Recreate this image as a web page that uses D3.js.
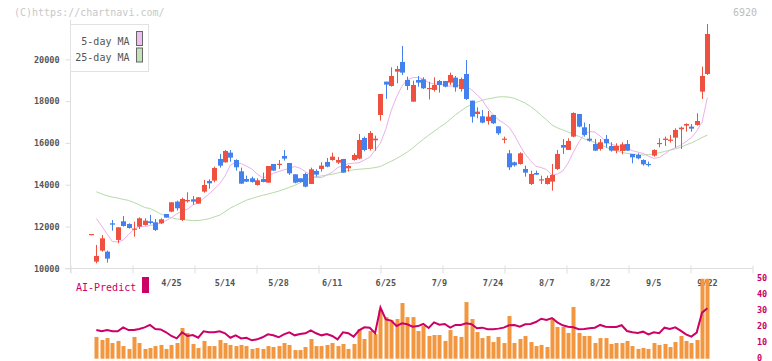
<!DOCTYPE html>
<html><head><meta charset="utf-8">
<script src="https://cdn.jsdelivr.net/npm/d3@7"></script>
<style>body{margin:0;background:#fff}svg{display:block}</style>
</head><body><svg id="c" width="772" height="361"></svg>
<script>
// ---- data ----
const openP  = [11640,10319,10845,10797,12153,11356,12249,12121,11865,11994,12073,12249,12201,12153,12600,12711,13190,12313,13206,13301,13094,13668,14179,14195,15231,15072,15534,15183,14641,14274,14306,13987,14274,14099,14992,14960,15375,15040,14498,14306,14514,14035,14657,14753,15088,15183,15056,15231,14785,15183,15247,16236,15710,16124,17337,18931,18724,19410,19872,19011,17974,19011,19043,18596,18533,18963,18963,18884,19123,18580,19298,18022,17384,17273,17049,17337,16794,16172,15502,15072,14992,14753,14035,14561,14226,14035,14147,14753,15901,15662,16300,17384,16746,16204,15949,15710,16188,15853,15630,15614,15949,15470,15423,15183,14992,15391,15965,16140,16124,16252,16651,16826,16778,16858,18453,19298];
const closeP = [11640,10590,11435,10463,12089,11962,12026,11930,11900,12392,12281,12169,11834,12345,12424,13158,12871,13317,13270,13190,13397,13987,14067,14801,14912,15614,15295,14833,14051,14147,14131,14211,14131,14896,14673,15000,15247,14545,14099,14131,13907,14737,14482,14912,14864,15343,15183,14577,14896,15423,16140,15662,16475,16204,18341,18788,19203,19537,19362,18724,18772,18884,18612,18628,18772,18772,18692,19250,18660,19059,18102,17257,17496,16970,17257,16938,16459,16204,14833,14928,15502,14577,14514,14482,14258,14322,14466,15470,15773,16093,17432,16778,16380,16108,15630,16029,15981,15630,15853,15933,15630,15311,15263,14976,14960,15662,15997,16204,16156,16619,16731,16906,16683,17049,19203,21212];
const highP  = [11640,11116,11595,10845,12313,11962,12504,12153,12233,12440,12392,12552,12360,12392,12600,13158,13238,13381,13636,13461,13397,14226,14258,14864,15470,15662,15662,15215,14817,14434,14386,14306,14577,14896,14992,15183,15662,15040,14498,14306,14577,14817,14737,15072,15279,15534,15327,15231,14944,15502,16427,16300,16571,16348,18341,18931,19617,19681,20638,19171,18979,19203,19139,18931,19139,19011,18963,19362,19203,19123,19968,18022,17703,17576,17528,17337,16794,16300,15662,15104,15550,14912,14673,14673,14434,14434,14992,15662,16188,16220,17464,17384,16970,16906,16188,16188,16380,16029,15981,16029,16140,15470,15502,15215,15104,15694,16220,16300,16380,16699,16779,16938,16906,17416,19649,21691];
const lowP   = [11640,10239,10797,10271,11802,11196,11994,11898,11515,11882,12041,12105,11786,12121,12424,12679,12759,12265,13142,13046,13094,13620,13812,14115,14817,15056,15104,14673,14035,14131,14099,13955,14115,14099,14673,14753,15151,14466,14067,14099,13876,14035,14386,14625,14833,15151,14992,14577,14625,15151,15215,15598,15630,15630,17065,18110,18692,18852,19250,18533,17974,18692,18580,18078,18453,18405,18660,18772,18453,18453,18054,16970,17177,16938,16874,16906,16380,15981,14705,14864,14960,14386,13987,14466,14035,14003,13716,14705,15470,15662,16268,16746,16300,16061,15614,15630,15773,15582,15502,15455,15614,15024,15215,14912,14864,15343,15789,15853,16013,15774,15710,16539,16539,16826,18102,19250];
const ma5 = [null,12380,12020,11640,11280,11260,11350,11620,11850,12010,12000,12050,12090,12170,12280,12430,12600,12740,12830,13030,13130,13340,13550,13790,14050,14410,14940,15060,15010,14890,14750,14510,14340,14390,14540,14630,14710,14780,14870,14790,14630,14450,14340,14340,14460,14600,14820,14910,15000,15030,15050,15180,15320,15650,15990,16660,17540,18190,18710,19020,19120,19130,19050,18880,18820,18800,18760,18710,18740,18750,18690,18550,18310,18050,17660,17350,17110,16950,16750,16370,15890,15460,15150,14880,14820,14720,14460,14510,14650,15030,15560,16040,16400,16540,16520,16320,16090,15940,15870,15820,15730,15630,15560,15500,15370,15260,15300,15460,15650,15770,15890,16060,16250,16560,16990,18170];
const ma25 = [null,13660,13560,13470,13410,13360,13300,13250,13150,13040,12910,12860,12740,12600,12510,12420,12360,12330,12310,12280,12290,12320,12370,12460,12540,12710,12880,13010,13140,13260,13340,13420,13490,13550,13620,13690,13780,13870,13970,14090,14210,14310,14380,14420,14460,14500,14560,14620,14680,14710,14740,14760,14780,14820,14870,15000,15120,15250,15400,15560,15750,15970,16170,16370,16550,16740,16910,17120,17340,17530,17710,17840,17950,18040,18100,18150,18200,18210,18190,18130,18020,17910,17740,17550,17320,17100,16860,16720,16620,16520,16420,16310,16200,16110,16020,15920,15800,15700,15620,15550,15500,15470,15440,15420,15440,15470,15530,15590,15650,15710,15790,15900,16000,16120,16260,16370];
const volume = [null,13.6,11.7,12.9,9.8,11.1,7.9,6.1,13.6,9.8,6.1,6.7,7.9,8.6,6.1,8.6,9.8,19.2,16.1,9.2,6.7,11.1,7.9,7.9,11.7,9.8,8.6,7.9,8.6,7.9,6.1,6.7,6.1,7.9,7.3,7.9,9.8,8.6,5.4,5.4,7.3,12.3,7.9,7.9,8.6,9.8,7.9,9.2,6.1,9.2,18.5,12.3,17.3,15.4,30.4,26,24.2,24.8,34.8,26,26,17.3,20.4,14.2,14.8,14.8,11.1,17.9,14.2,13.6,35.4,24.8,16.7,12.9,14.2,10.4,13.6,9.8,26.7,9.8,12.3,14.2,10.4,7.9,8.6,7.3,25.4,19.8,19.8,16.1,32.3,16.1,14.2,14.2,9.8,12.9,12.9,9.2,9.8,9.8,11.1,7.9,6.1,6.7,6.1,9.8,8.6,9.2,7.3,10.4,14.2,11.1,9.8,11.7,58,62];
const aiPredict = [null,17.9,17.1,17.9,17.1,17.1,19.6,17.9,17.9,18.6,19.6,21.1,18.6,18.3,16.5,14.2,12.7,16.5,14.2,14.8,13.1,17.1,16.5,16.5,17.1,15.9,13.1,14.6,12.7,13.1,11.5,12.1,13.4,15.2,14.6,13.4,15.2,16.5,14.6,15.4,15.9,17.7,15.9,14.6,15.4,14.2,12.1,16.5,15.9,13.8,17.7,19.6,19.3,15.9,32,24.5,23.8,20.4,22.1,21.5,20,20.4,21.7,19.2,22.7,21.3,21.7,19.4,21.1,21.1,22.1,21.5,19,19.4,18.4,18.4,18.8,19.4,20.9,21.1,20,21.5,21.7,22.9,25,24.2,25.4,22.7,20.9,20,19.6,18.4,18.6,19,19.4,21.1,20,19.8,19.8,20.9,17.3,16.5,16.1,16.9,15.2,16.5,15.9,19.4,18.6,19.6,17.5,15.2,13.8,16.3,28.8,31.5];
const dateLabels = ["4/25","5/14","5/28","6/11","6/25","7/9","7/24","8/7","8/22","9/5","9/22"];
const dateLabelIndex = [15,25,35,45,55,65,75,85,95,105,115];
const priceTicks = [10000,12000,14000,16000,18000,20000];
const subTicks = [0,10,20,30,40,50];
const gridDivisions = d3.range(0,12);
const legendItems = [{label:"5-day MA", fill:"#eebfee"},{label:"25-day MA", fill:"#c3e2b6"}];

// ---- drawing ----
const svg = d3.select("#c");
const FONT = "'DejaVu Sans Mono', monospace";
const n = openP.length;
const x = d3.scaleLinear().domain([0, n-1]).range([91, 707.4]);
const y = d3.scaleLinear().domain([10000, 20000]).range([268.3, 59.3]);
const yv = d3.scaleLinear().domain([0, 50]).range([358.7, 278.7]);
const xg = d3.scaleLinear().domain([0, 11]).range([70.5, 752.5]);
const UP = "#ef5140", DOWN = "#4381ee", AXIS = "#dedede";

// watermark & code
svg.append("text").attr("x",14).attr("y",16).attr("font-family",FONT).attr("font-size",10)
  .attr("fill","#c8c8c8").text("(C)https://chartnavi.com/");
svg.append("text").attr("x",757).attr("y",16).attr("text-anchor","end").attr("font-family",FONT)
  .attr("font-size",10).attr("fill","#bdbdbd").text("6920");

// y axis
const ya = svg.append("g").attr("transform","translate(70.5,0)")
  .call(d3.axisLeft(y).tickValues(priceTicks).tickSize(5).tickPadding(6).tickFormat(d3.format("d")));
ya.select(".domain").remove();
ya.append("line").attr("x1",0).attr("x2",0).attr("y1",20).attr("y2",273).attr("stroke",AXIS);
ya.selectAll(".tick line").attr("stroke",AXIS);
ya.selectAll(".tick text").attr("font-family",FONT).attr("font-size",8.5).attr("fill","#555").attr("font-weight","bold");

// x axis (grid divisions)
const xa = svg.append("g").attr("transform","translate(0,268.5)")
  .call(d3.axisBottom(xg).tickValues(gridDivisions).tickSize(5).tickFormat(""));
xa.select(".domain").remove();
xa.append("line").attr("x1",65).attr("x2",752.5).attr("stroke",AXIS);
xa.selectAll(".tick line").attr("stroke",AXIS).attr("y1",-3);

// date labels
svg.append("g").selectAll("text").data(dateLabels).join("text")
  .attr("x",(d,i)=>x(dateLabelIndex[i])).attr("y",286).attr("text-anchor","middle")
  .attr("font-family",FONT).attr("font-size",8.5).attr("fill","#555").attr("font-weight","bold").text(d=>d);

// moving averages
const lineGen = d3.line().defined(d=>d!=null).x((d,i)=>x(i)).y(d=>y(d));
svg.append("path").datum(ma25).attr("d",lineGen).attr("fill","none").attr("stroke","#b5dba9").attr("stroke-width",1);
svg.append("path").datum(ma5).attr("d",lineGen).attr("fill","none").attr("stroke","#e9b2e9").attr("stroke-width",1);

// candles
const idx = d3.range(n);
const cg = svg.append("g");
cg.selectAll("line").data(idx).join("line")
  .attr("x1",i=>Math.round(x(i))+0.5).attr("x2",i=>Math.round(x(i))+0.5)
  .attr("y1",i=>y(highP[i])).attr("y2",i=>y(lowP[i]))
  .attr("stroke",i=>closeP[i]>=openP[i]?UP:DOWN).attr("stroke-width",1);
cg.selectAll("rect").data(idx).join("rect")
  .attr("x",i=>Math.round(x(i))-2).attr("width",5)
  .attr("y",i=>Math.min(y(openP[i]),y(closeP[i])))
  .attr("height",i=>Math.max(1.2,Math.abs(y(openP[i])-y(closeP[i]))))
  .attr("fill",i=>closeP[i]>=openP[i]?UP:DOWN);

// legend
const lg = svg.append("g");
lg.append("rect").attr("x",70.5).attr("y",24.5).attr("width",78).attr("height",47).attr("fill","#fff").attr("stroke","#e2e2e2");
legendItems.forEach((d,k)=>{
  lg.append("text").attr("x",129.5).attr("y",45+k*16).attr("text-anchor","end").attr("font-family",FONT)
    .attr("font-size",10).attr("fill","#555").text(d.label);
  lg.append("rect").attr("x",136.5).attr("y",31.5+k*16.5).attr("width",6).attr("height",14)
    .attr("fill",d.fill).attr("stroke","#666");
});

// bottom panel
svg.append("defs").append("clipPath").attr("id","vclip").append("rect")
  .attr("x",60).attr("y",yv(50)).attr("width",700).attr("height",yv(0)-yv(50)+2);
const vg = svg.append("g").attr("clip-path","url(#vclip)");
vg.selectAll("rect").data(idx.filter(i=>volume[i]!=null)).join("rect")
  .attr("x",i=>Math.round(x(i))-1.5).attr("width",4)
  .attr("y",i=>yv(volume[i])).attr("height",i=>yv(0)-yv(volume[i]))
  .attr("fill","#f29740");
const aiLine = d3.line().defined(d=>d!=null).x((d,i)=>x(i)).y(d=>yv(d));
svg.append("path").datum(aiPredict).attr("d",aiLine).attr("fill","none").attr("stroke","#cc0066").attr("stroke-width",2);

// right axis labels of bottom panel
svg.append("g").selectAll("text").data(subTicks).join("text")
  .attr("x",757).attr("y",d=>yv(d)+1.8).attr("font-family",FONT).attr("font-size",8.5)
  .attr("font-weight","bold").attr("fill","#cc0066").text(d=>d);

// AI-Predict label
svg.append("text").attr("x",76).attr("y",290.5).attr("font-family",FONT).attr("font-size",10)
  .attr("fill","#cc0066").text("AI-Predict");
svg.append("rect").attr("x",142).attr("y",277).attr("width",7).attr("height",16).attr("fill","#cc0066");
</script></body></html>
